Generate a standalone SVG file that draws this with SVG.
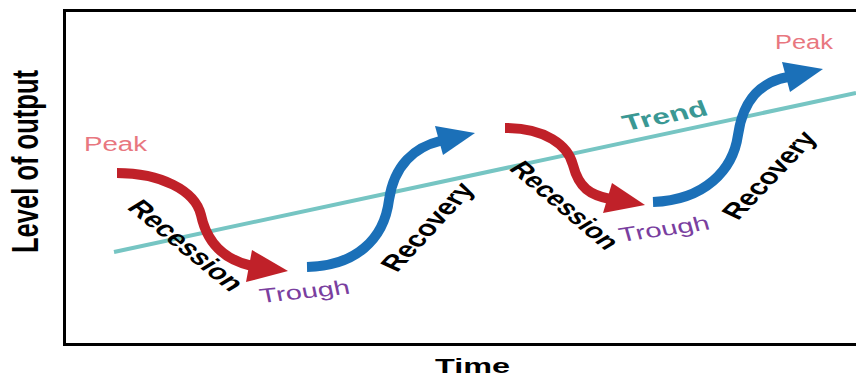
<svg xmlns="http://www.w3.org/2000/svg" width="856" height="380" viewBox="0 0 856 380">
<style>
.lbl{font-family:"Liberation Sans",Arial,sans-serif;}
.b{font-weight:bold;fill:#000;}
.peak{fill:#e8777f;}
.trough{fill:#7a3f9f;}
.trend{fill:#3a9894;font-weight:bold;}
.red{fill:none;stroke:#c02129;stroke-width:10;}
.blue{fill:none;stroke:#1b70b8;stroke-width:10;}
.redh{fill:#c02129;}
.blueh{fill:#1b70b8;}
</style>
<rect x="0" y="0" width="856" height="380" fill="#fff"/>
<g id="frame">
<rect x="64.5" y="10.5" width="900" height="334" fill="none" stroke="#000" stroke-width="3"/>
</g>
<g id="axis-labels">
<text class="lbl b" font-size="25.5" textLength="183" lengthAdjust="spacingAndGlyphs" transform="translate(38,253) scale(1.42,1) rotate(-90)">Level of output</text>
<text class="lbl b" font-size="21" textLength="52.8" lengthAdjust="spacingAndGlyphs" transform="translate(435,373) scale(1.42,1)">Time</text>
</g>
<g id="trend">
<line x1="114" y1="252" x2="856" y2="93" stroke="#76c5c3" stroke-width="4"/>
<text class="lbl trend" font-size="22" textLength="61" lengthAdjust="spacingAndGlyphs" transform="translate(626,131) scale(1.42,1) rotate(-15.4)">Trend</text>
</g>
<g id="connectors">
<g id="recession1">
<path class="red" d="M117,173 C160,173 195,190 201,215 C207,243 225,260 252,266"/>
<polygon class="redh" points="252,250 288,271 246,282"/>
</g>
<g id="recovery1">
<path class="blue" d="M307,267 C355,266 384,240 389,200 C394,165 415,147 440,141"/>
<polygon class="blueh" points="435,126 475,133 443,155"/>
</g>
<g id="recession2">
<path class="red" d="M505,128 C545,128 568,145 573,165 C579,188 590,195 610,199"/>
<polygon class="redh" points="612,183 645,205 603,213"/>
</g>
<g id="recovery2">
<path class="blue" d="M653,202 C705,200 733,170 738,135 C743,100 760,82 788,77"/>
<polygon class="blueh" points="782,62 823,69 790,92"/>
</g>
</g>
<g id="peak1"><text class="lbl peak" font-size="20" textLength="44.4" lengthAdjust="spacingAndGlyphs" transform="translate(84,151) scale(1.42,1)">Peak</text></g>
<g id="recession-label1"><text class="lbl b" font-size="22" textLength="112" lengthAdjust="spacingAndGlyphs" transform="translate(126,208) scale(1.42,1) rotate(49)">Recession</text></g>
<g id="trough1"><text class="lbl trough" font-size="20" textLength="64" lengthAdjust="spacingAndGlyphs" transform="translate(261,303) scale(1.42,1) rotate(-8.5)">Trough</text></g>
<g id="recovery-label1"><text class="lbl b" font-size="22" textLength="100.6" lengthAdjust="spacingAndGlyphs" transform="translate(397,273) scale(1.42,1) rotate(-56.7)">Recovery</text></g>
<g id="recession-label2"><text class="lbl b" font-size="21.5" textLength="107" lengthAdjust="spacingAndGlyphs" transform="translate(508,169) scale(1.42,1) rotate(50)">Recession</text></g>
<g id="trough2"><text class="lbl trough" font-size="20" textLength="64.7" lengthAdjust="spacingAndGlyphs" transform="translate(621,242) scale(1.42,1) rotate(-11.3)">Trough</text></g>
<g id="recovery-label2"><text class="lbl b" font-size="22" textLength="100.6" lengthAdjust="spacingAndGlyphs" transform="translate(738,221) scale(1.42,1) rotate(-56)">Recovery</text></g>
<g id="peak2"><text class="lbl peak" font-size="19.5" textLength="40.8" lengthAdjust="spacingAndGlyphs" transform="translate(775,49) scale(1.42,1)">Peak</text></g>
</svg>
